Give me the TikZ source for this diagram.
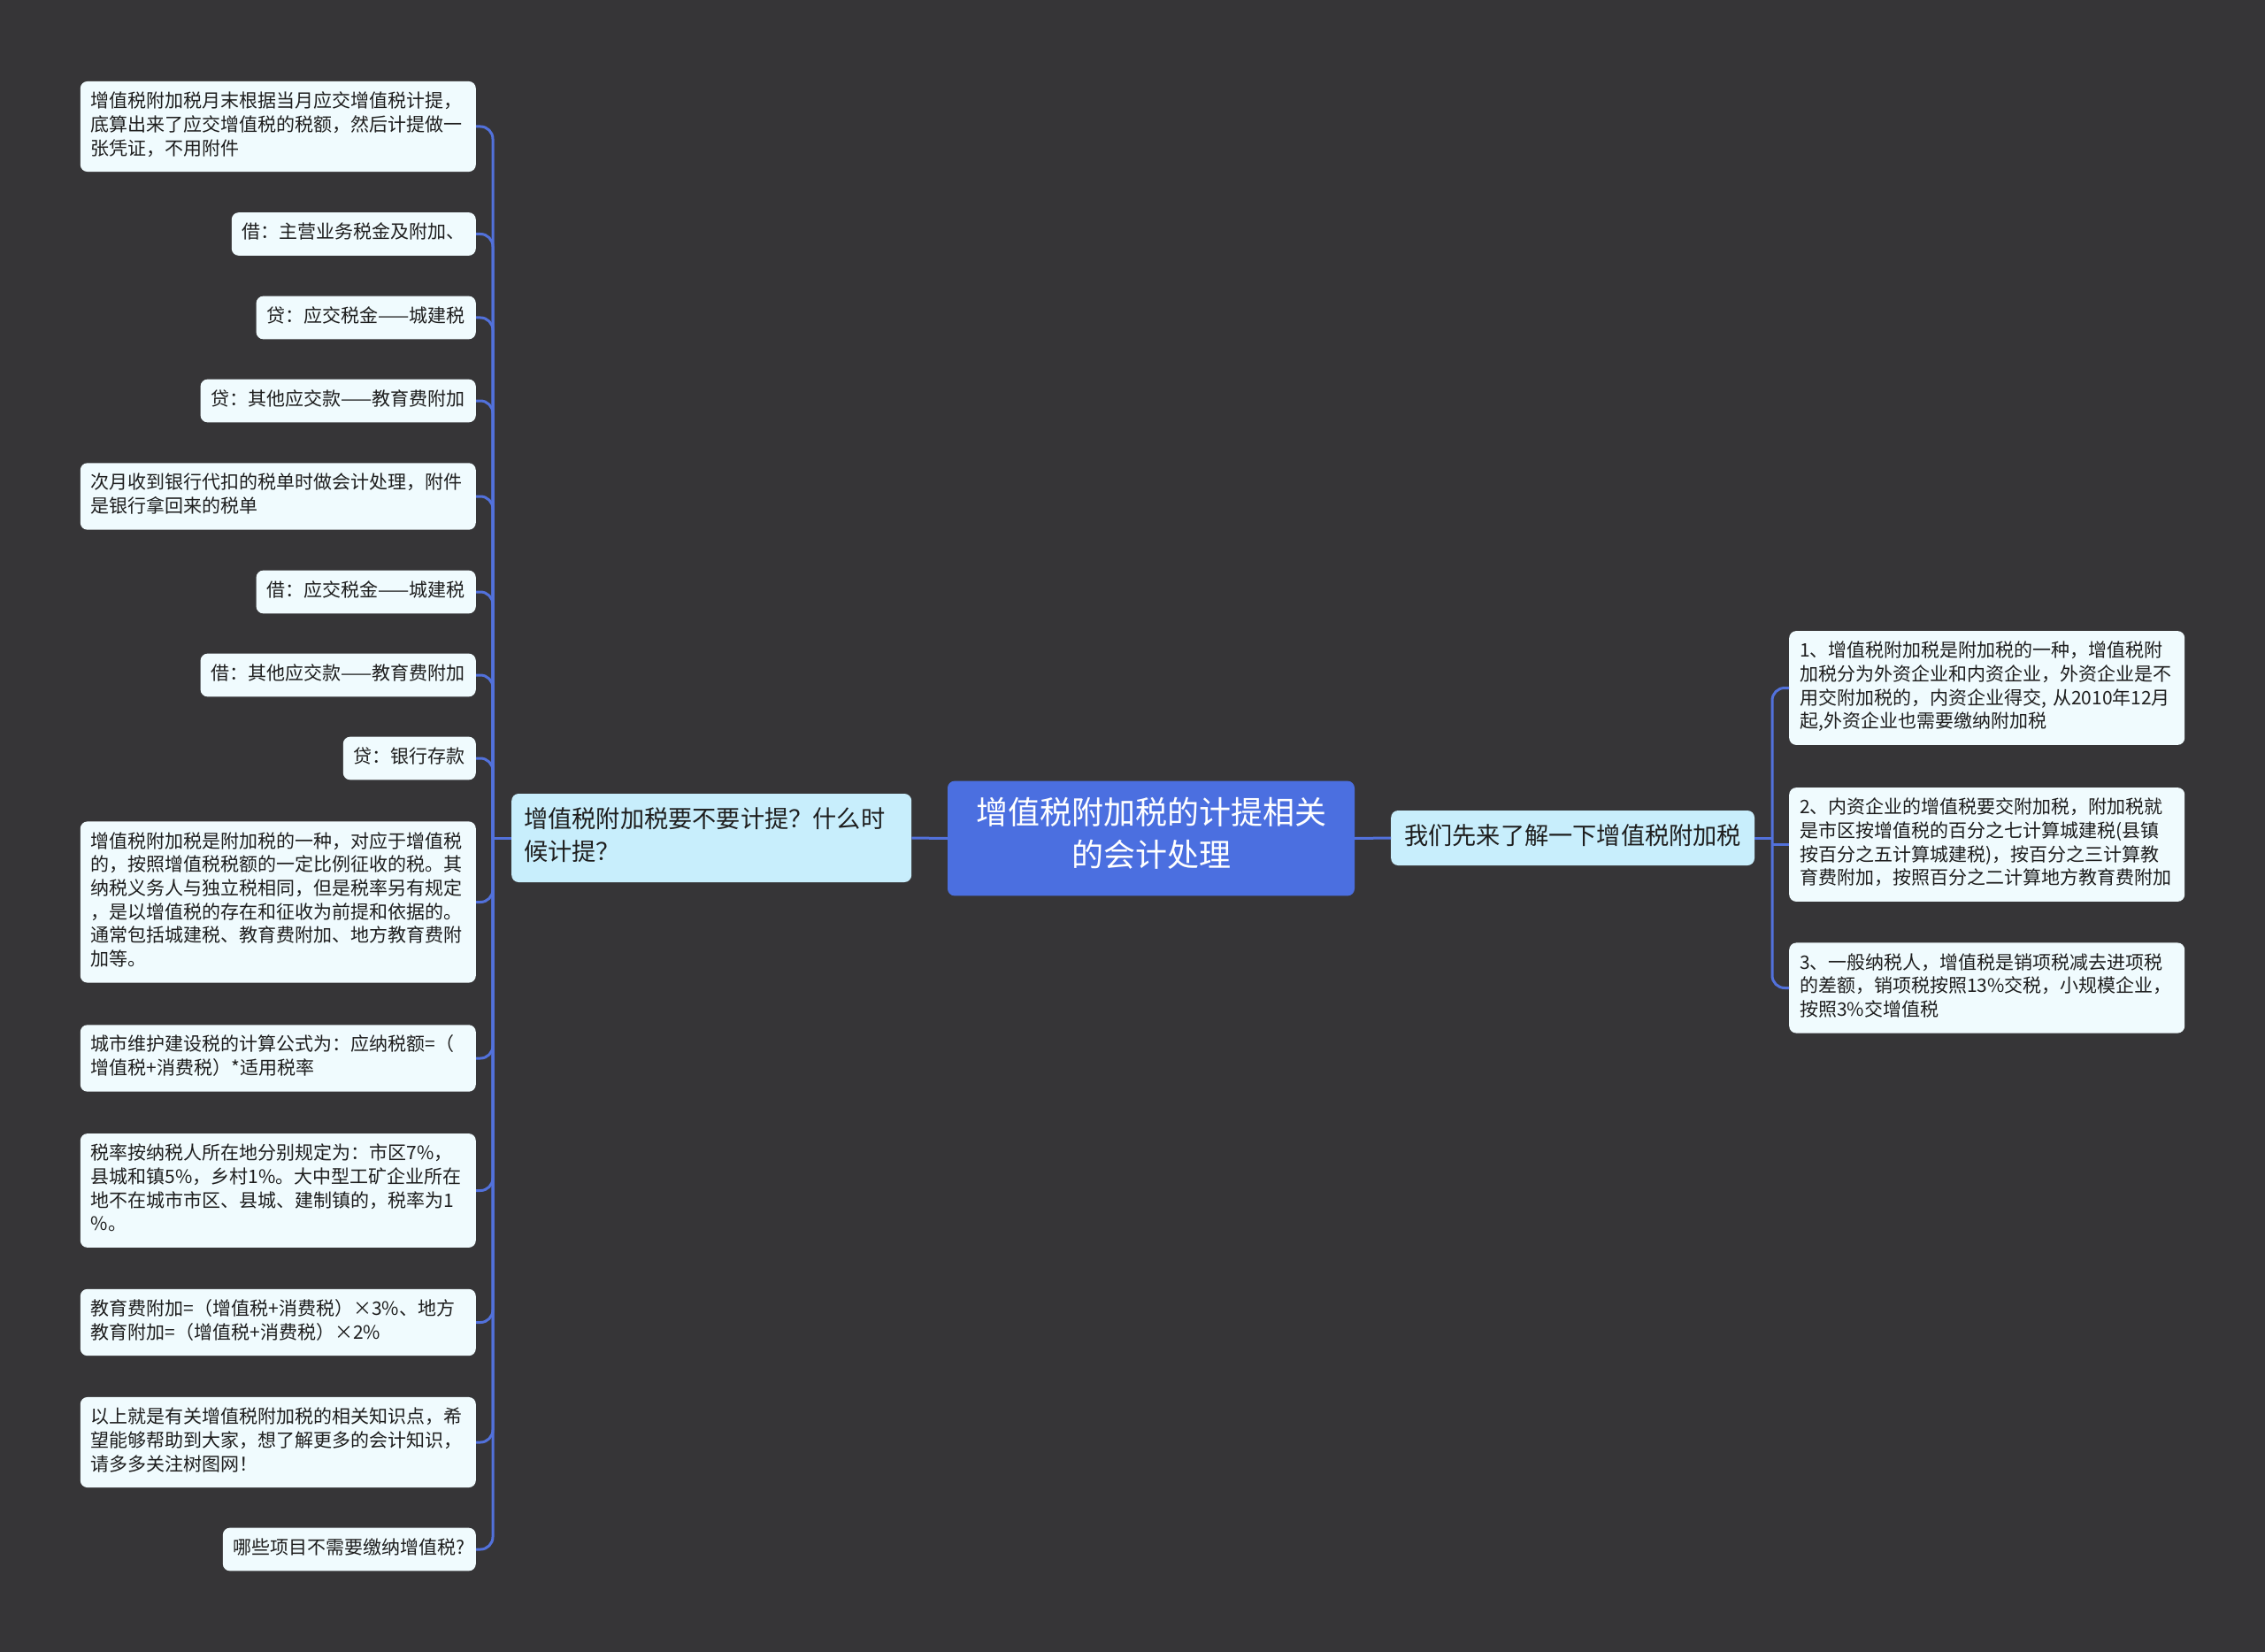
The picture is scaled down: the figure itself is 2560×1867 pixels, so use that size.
\documentclass[tikz,border=0pt]{standalone}
\usepackage{fontspec}
\setmainfont{Noto Sans CJK SC}
\definecolor{mmBg}{HTML}{363537}
\definecolor{mmLine}{HTML}{5271DB}
\definecolor{mmRoot}{HTML}{4B6FE0}
\definecolor{mmTopic}{HTML}{C8EEFC}
\definecolor{mmLeaf}{HTML}{F0FBFE}
\definecolor{mmText}{HTML}{1E1E1E}

\begin{document}
\begin{tikzpicture}[x=1pt, y=-1pt,
  leafbox/.style={fill=mmLeaf, rounded corners=8pt, text=mmText, align=left,
    inner xsep=12pt, inner ysep=11pt, font=\fontsize{21}{26.7}\selectfont,
    execute at begin node=\strut, execute at end node=\strut},
  wideleaf/.style={leafbox, text width=423pt},
  topicbox/.style={fill=mmTopic, rounded corners=8pt, text=mmText, align=left,
    inner xsep=14pt, inner ysep=13pt, font=\fontsize{27.2}{37}\selectfont,
    execute at begin node=\strut, execute at end node=\strut},
  rootbox/.style={fill=mmRoot, rounded corners=8pt, text=white, align=center,
    inner xsep=32pt, inner ysep=18.5pt, font=\fontsize{36}{48}\selectfont,
    execute at begin node=\strut, execute at end node=\strut},
  link/.style={draw=mmLine, line width=3pt},
  leaflink/.style={link, rounded corners=14pt}]

  % Canvas
  \fill[mmBg] (0,0) rectangle (2560,1867);

  % Centre and the two topics
  \node[rootbox] (root) at (1301,947.5) {增值税附加税的计提相关\\的会计处理};
  \node[topicbox, text width=424pt, anchor=west] (lq) at (578,947) {增值税附加税要不要计提？什么时\\候计提？};
  \node[topicbox, inner xsep=15pt, inner ysep=12.5pt, anchor=west] (rq) at (1572,947) {我们先来了解一下增值税附加税};

  % Left leaves
  \node[wideleaf, anchor=east] (l1) at (538,143) {增值税附加税月末根据当月应交增值税计提，\\底算出来了应交增值税的税额，然后计提做一\\张凭证，不用附件};
  \node[leafbox, anchor=east] (l2) at (538,264.5) {借：主营业务税金及附加、};
  \node[leafbox, anchor=east] (l3) at (538,359) {贷：应交税金——城建税};
  \node[leafbox, anchor=east] (l4) at (538,453) {贷：其他应交款——教育费附加};
  \node[wideleaf, anchor=east] (l5) at (538,561) {次月收到银行代扣的税单时做会计处理，附件\\是银行拿回来的税单};
  \node[leafbox, anchor=east] (l6) at (538,669) {借：应交税金——城建税};
  \node[leafbox, anchor=east] (l7) at (538,763) {借：其他应交款——教育费附加};
  \node[leafbox, anchor=east] (l8) at (538,857) {贷：银行存款};
  \node[wideleaf, anchor=east] (l9) at (538,1019.5) {增值税附加税是附加税的一种，对应于增值税\\的，按照增值税税额的一定比例征收的税。其\\纳税义务人与独立税相同，但是税率另有规定\\，是以增值税的存在和征收为前提和依据的。\\通常包括城建税、教育费附加、地方教育费附\\加等。};
  \node[wideleaf, anchor=east] (l10) at (538,1196) {城市维护建设税的计算公式为：应纳税额=（\\增值税+消费税）*适用税率};
  \node[wideleaf, anchor=east] (l11) at (538,1345.5) {税率按纳税人所在地分别规定为：市区7\%，\\县城和镇5\%，乡村1\%。大中型工矿企业所在\\地不在城市市区、县城、建制镇的，税率为1\\\%。};
  \node[wideleaf, anchor=east] (l12) at (538,1494.5) {教育费附加=（增值税+消费税）×3\%、地方\\教育附加=（增值税+消费税）×2\%};
  \node[wideleaf, anchor=east] (l13) at (538,1630) {以上就是有关增值税附加税的相关知识点，希\\望能够帮助到大家，想了解更多的会计知识，\\请多多关注树图网！};
  \node[leafbox, anchor=east] (l14) at (538,1751) {哪些项目不需要缴纳增值税?};

  % Right leaves
  \node[wideleaf, anchor=west] (r1) at (2022,777.5) {1、增值税附加税是附加税的一种，增值税附\\加税分为外资企业和内资企业，外资企业是不\\用交附加税的，内资企业得交, 从2010年12月\\起,外资企业也需要缴纳附加税};
  \node[wideleaf, anchor=west] (r2) at (2022,954.5) {2、内资企业的增值税要交附加税，附加税就\\是市区按增值税的百分之七计算城建税(县镇\\按百分之五计算城建税)，按百分之三计算教\\育费附加，按照百分之二计算地方教育费附加};
  \node[wideleaf, anchor=west] (r3) at (2022,1116.5) {3、一般纳税人，增值税是销项税减去进项税\\的差额，销项税按照13\%交税，小规模企业，\\按照3\%交增值税};

  % Connectors
  \coordinate (ltrunk) at (557,947);
  \coordinate (rtrunk) at (2003,947);
  \draw[link] (lq.east) -- (root.west);
  \draw[link] (root.east) -- (rq.west);
  \draw[link] (lq.west) -- (ltrunk);
  \draw[link] (rq.east) -- (rtrunk);
  \foreach \n in {1,...,14}
    \draw[leaflink] (ltrunk) |- (l\n.east);
  \foreach \n in {1,3}
    \draw[leaflink] (rtrunk) |- (r\n.west);
  \draw[link] (r2.west -| rtrunk) -- (r2.west);

\end{tikzpicture}
\end{document}
